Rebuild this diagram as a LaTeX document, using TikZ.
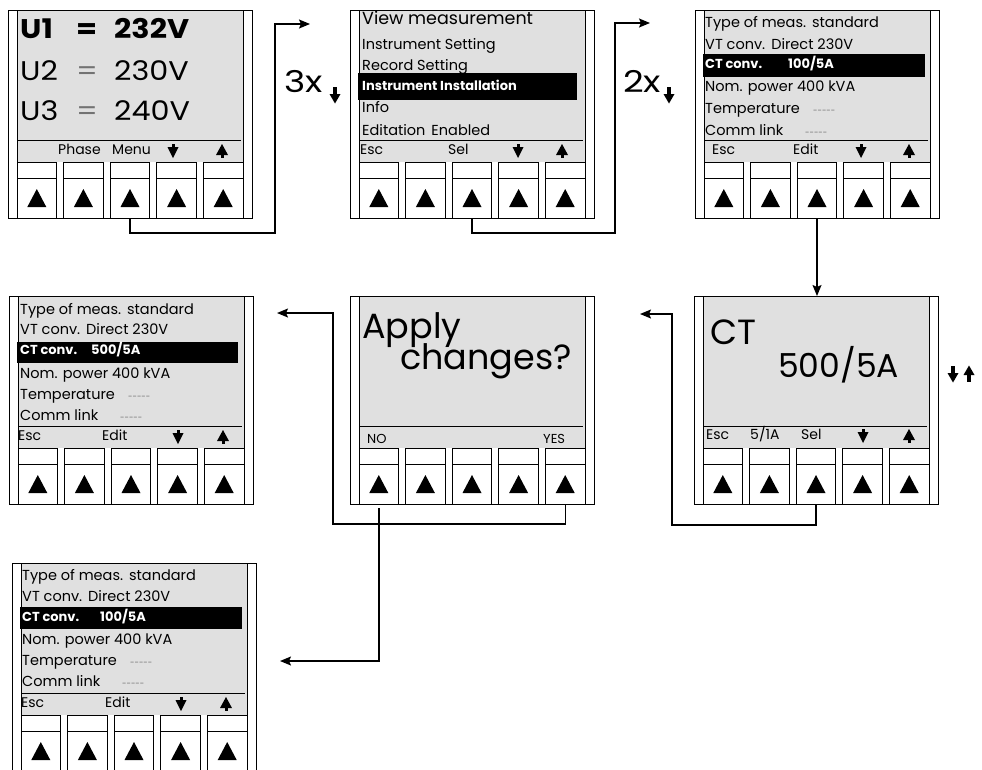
\documentclass[tikz,border=0pt]{standalone}
\usepackage{graphicx}
\usepackage{fontspec}
\setmainfont{Poppins}
\usetikzlibrary{arrows.meta}
\definecolor{scr}{RGB}{224,224,224}
\newcommand{\tightlines}{\lineskiplimit=-100pt\relax\lineskip=0pt\relax}
\tikzset{
  pline/.style={draw=black, line width=0.8pt},
  pframe/.style={draw=black, line width=0.8pt, minimum width=244pt, minimum height=208pt, inner sep=0pt, outer sep=0pt, anchor=north west},
  btn/.style={draw=black, fill=white, line width=0.8pt, minimum width=39.6pt, minimum height=56pt, inner sep=0pt, outer sep=0pt, anchor=north west},
  conn/.style={draw=black, line width=1.4pt},
  arr/.style={conn, -{Stealth[length=11pt,width=9pt,inset=2pt]}},
  ln/.style={anchor=mid west, inner sep=0pt, font=\fontsize{14.5}{14.5}\selectfont},
  dashtxt/.style={anchor=mid west, inner sep=0pt, text=black!60, font=\fontsize{8}{8}\selectfont},
  hl/.style={anchor=mid west, inner sep=0pt, text=white, font=\fontsize{13}{13}\selectfont\bfseries},
  keytxt/.style={anchor=mid west, inner sep=0pt, font=\fontsize{14}{14}\selectfont},
  bigtxt/.style={anchor=mid west, inner sep=0pt, font=\fontsize{35}{35}\selectfont},
  utxt/.style={anchor=base west, inner sep=0pt, font=\fontsize{27}{27}\selectfont},
  dnk/.pic={\fill (-5.5,-4) -- (5.5,-4) -- (0,7) -- cycle; \fill (-1.5,-7) rectangle (1.5,-3.5);},
  upk/.pic={\fill (-6,4) -- (6,4) -- (0,-7) -- cycle; \fill (-1.5,7) rectangle (1.5,3.5);},
  dnarr/.pic={\fill (-1.6,-8) rectangle (1.6,0); \fill (-5.5,-1) -- (5.5,-1) -- (0,8.5) -- cycle;},
  uparr/.pic={\fill (-1.6,8) rectangle (1.6,0); \fill (-5.5,1) -- (5.5,1) -- (0,-8.5) -- cycle;},
}
\newcommand{\panelframe}[1]{%
  \fill[scr] (9,0) rectangle (235,152);
  \node[pframe] (#1) at (0,0) {};
  \draw[pline] (9,0) -- (9,208) (235,0) -- (235,208);
  \draw[pline] (9,130) -- (233,130);
  \foreach \i in {1,...,5}{%
    \pgfmathsetmacro\bx{9+(\i-1)*46.6}%
    \node[btn] (#1b\i) at (\bx,152) {};
    \draw[pline] (\bx,168) -- (\bx+39.6,168);
    \fill (\bx+10.3,197) -- (\bx+29.3,197) -- (\bx+19.8,179) -- cycle;
  }%
}
\newcommand{\wide}[1]{\scalebox{1.12}[1]{#1}}
\begin{document}
\begin{tikzpicture}[x=1pt,y=-1pt]
\clip (0,0) rectangle (982,769);
\fill[white] (0,0) rectangle (982,769);

% ---------- Panel 1
\begin{scope}[shift={(8,10)}]
  \panelframe{p1}
  \node[utxt, font=\fontsize{27}{27}\selectfont\bfseries] (p1a1) at (12,28) {\wide{U1}};
  \node[utxt, font=\fontsize{27}{27}\selectfont\bfseries] (p1b1) at (68,28) {\wide{=}};
  \node[utxt, font=\fontsize{27}{27}\selectfont\bfseries] (p1c1) at (106,28) {\wide{232V}};
  \node[utxt] (p1a2) at (12,70) {\wide{U2}};
  \node[utxt, text=black!55] (p1b2) at (68,70) {\wide{=}};
  \node[utxt] (p1c2) at (106,70) {\wide{230V}};
  \node[utxt] (p1a3) at (12,110) {\wide{U3}};
  \node[utxt, text=black!55] (p1b3t) at (68,110) {\wide{=}};
  \node[utxt] (p1c3) at (106,110) {\wide{240V}};
  \node[keytxt] (p1k2) at (50,142) {Phase};
  \node[keytxt] (p1k3) at (104,142) {Menu};
  \pic at (165,141) {dnk};
  \pic at (214,141) {upk};
\end{scope}

% ---------- Panel 2
\begin{scope}[shift={(350,10)}]
  \panelframe{p2}
  \node[ln, font=\fontsize{17.5}{17.5}\selectfont] (p2l1) at (12,12) {View measurement};
  \node[ln] (p2l2) at (12,37) {Instrument Setting};
  \node[ln] (p2l3) at (12,58) {Record Setting};
  \fill (8,63) rectangle (227,90);
  \node[hl] (p2l4) at (12,78) {Instrument Installation};
  \node[ln] (p2l5) at (12,100) {Info};
  \node[ln] (p2l6) at (12,123) {Editation\hspace{6pt}Enabled};
  \node[keytxt] (p2k1) at (10,142) {Esc};
  \node[keytxt] (p2k3) at (98,142) {Sel};
  \pic at (168,141) {dnk};
  \pic at (212,141) {upk};
\end{scope}

% ---------- Panel 3
\begin{scope}[shift={(695,10)}]
  \panelframe{p3}
  \node[ln] (p3l1) at (10,15) {Type of meas.\hspace{6pt}standard};
  \node[ln] (p3l2) at (10,37) {VT conv.\hspace{6pt}Direct 230V};
  \fill (8,44) rectangle (230,67);
  \node[hl] (p3l3) at (10,56) {CT conv.};
  \node[hl] (p3l3v) at (93,56) {100/5A};
  \node[ln] (p3l4) at (10,79) {Nom. power 400 kVA};
  \node[ln] (p3l5) at (10,101) {Temperature};
  \node[dashtxt] (p3l5d) at (118,101) {-{}-{}-{}-{}-};
  \node[ln] (p3l6) at (10,123) {Comm link};
  \node[dashtxt] (p3l6d) at (110,123) {-{}-{}-{}-{}-};
  \node[keytxt] (p3k1) at (17,142) {Esc};
  \node[keytxt] (p3k3) at (98,142) {Edit};
  \pic at (166,141) {dnk};
  \pic at (214,141) {upk};
\end{scope}

% ---------- Panel 4
\begin{scope}[shift={(9,296)}]
  \panelframe{p4}
  \node[ln] (p4l1) at (11,16) {Type of meas.\hspace{6pt}standard};
  \node[ln] (p4l2) at (11,36) {VT conv.\hspace{6pt}Direct 230V};
  \fill (8,46) rectangle (229,67);
  \node[hl] (p4l3) at (11,56) {CT conv.};
  \node[hl] (p4l3v) at (82,56) {500/5A};
  \node[ln] (p4l4) at (11,80) {Nom. power 400 kVA};
  \node[ln] (p4l5) at (11,101) {Temperature};
  \node[dashtxt] (p4l5d) at (119,101) {-{}-{}-{}-{}-};
  \node[ln] (p4l6) at (11,122) {Comm link};
  \node[dashtxt] (p4l6d) at (111,122) {-{}-{}-{}-{}-};
  \node[keytxt] (p4k1) at (9,142) {Esc};
  \node[keytxt] (p4k3) at (93,142) {Edit};
  \pic at (169,141) {dnk};
  \pic at (214,141) {upk};
\end{scope}

% ---------- Panel 5
\begin{scope}[shift={(350,296)}]
  \panelframe{p5}
  \node[anchor=base west, inner sep=0pt, align=left, font=\fontsize{35}{31}\selectfont\tightlines] (p5l1) at (12,73) {Apply\\\hspace{38pt}changes?};
  \node[keytxt, font=\fontsize{13}{13}\selectfont] (p5k1) at (17,145) {NO};
  \node[keytxt, font=\fontsize{13}{13}\selectfont] (p5k5) at (193,145) {YES};
\end{scope}

% ---------- Panel 6
\begin{scope}[shift={(694,296)}]
  \panelframe{p6}
  \node[bigtxt] (p6l1) at (16,46) {CT};
  \node[bigtxt, font=\fontsize{33}{33}\selectfont] (p6l2) at (84,79) {500/5A};
  \node[keytxt] (p6k1) at (12,141) {Esc};
  \node[keytxt] (p6k2) at (56,141) {5/1A};
  \node[keytxt] (p6k3) at (107,141) {Sel};
  \pic at (169,140) {dnk};
  \pic at (215,140) {upk};
\end{scope}

% ---------- Panel 7
\begin{scope}[shift={(12,563)}]
  \panelframe{p7}
  \node[ln] (p7l1) at (10,15) {Type of meas.\hspace{6pt}standard};
  \node[ln] (p7l2) at (10,36) {VT conv.\hspace{6pt}Direct 230V};
  \fill (8,44) rectangle (230,66);
  \node[hl] (p7l3) at (10,56) {CT conv.};
  \node[hl] (p7l3v) at (88,56) {100/5A};
  \node[ln] (p7l4) at (10,79) {Nom. power 400 kVA};
  \node[ln] (p7l5) at (10,100) {Temperature};
  \node[dashtxt] (p7l5d) at (118,100) {-{}-{}-{}-{}-};
  \node[ln] (p7l6) at (10,121) {Comm link};
  \node[dashtxt] (p7l6d) at (110,121) {-{}-{}-{}-{}-};
  \node[keytxt] (p7k1) at (9,142) {Esc};
  \node[keytxt] (p7k3) at (93,142) {Edit};
  \pic at (169,141) {dnk};
  \pic at (214,141) {upk};
\end{scope}

% ---------- step labels
\node[anchor=mid west, inner sep=0pt, font=\fontsize{30}{30}\selectfont] (lab1) at (284,90) {\scalebox{1.2}[1]{3x}};
\pic at (335,95) {dnarr};
\node[anchor=mid west, inner sep=0pt, font=\fontsize{30}{30}\selectfont] (lab2) at (623,90) {\scalebox{1.2}[1]{2x}};
\pic at (669,95) {dnarr};
\pic at (953,374) {dnarr};
\pic at (969,374) {uparr};

% ---------- connectors
\coordinate (c1x) at (275,233);
\coordinate (c1end) at (310,24);
\draw[arr] (p1b3.south) |- (c1x) |- (c1end);
\coordinate (c2x) at (615,233);
\coordinate (c2end) at (650,23);
\draw[arr] (p2b3.south) |- (c2x) |- (c2end);
\draw[arr] (p3b3.south) -- (p3b3.south |- p6.north);
\coordinate (c4x) at (672,525);
\coordinate (c4end) at (640,314);
\draw[arr] (p6b3.south) |- (c4x) |- (c4end);
\coordinate (c5x) at (333,524);
\coordinate (c5end) at (277,313);
\draw[arr] (p5b5.south) |- (c5x) |- (c5end);
\coordinate (c6end) at (280,661);
\draw[arr] ([yshift=-4pt]p5b1.south) |- (c6end);
\end{tikzpicture}
\end{document}
